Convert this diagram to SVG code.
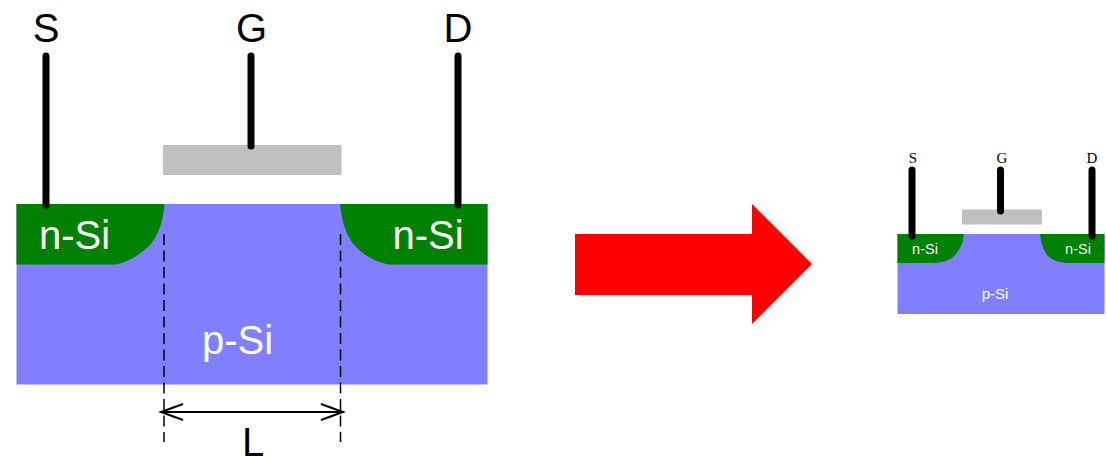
<svg xmlns="http://www.w3.org/2000/svg" width="1106" height="456" viewBox="0 0 1106 456">
<style>
.si{fill:#8080ff}.n{fill:#008000}.gate{fill:#c0c0c0}
.lead{stroke:#000;stroke-linecap:round;fill:none}
.t{font-family:"Liberation Sans",Arial,sans-serif;fill:#fff;text-anchor:middle}
.k{font-family:"Liberation Sans",Arial,sans-serif;fill:#000;text-anchor:middle}
.s{font-family:"Liberation Serif","Times New Roman",serif;fill:#000;text-anchor:middle;font-size:15px}
.dash{stroke:#000;stroke-width:1.5;stroke-dasharray:11 5.5;fill:none}
.dim{stroke:#000;stroke-width:2;fill:none}
</style>
<rect width="1106" height="456" fill="#fff"/>
<g id="large-substrate"><rect class="si" x="16.500" y="204" width="471" height="180.500"/><text class="t" x="237.500" y="354" font-size="40">p-Si</text></g>
<g id="large-source"><path class="n" d="M16.500 204H164.500C163 222 158 237 148 247C138 256 128 262 116 264.500H16.500Z"/><text class="t" x="74.500" y="249" font-size="40">n-Si</text></g>
<g id="large-drain"><path class="n" d="M340 204H487.500V264.500H388C376 262 365 256 356 247C346 237 342 222 340 204Z"/><text class="t" x="428" y="249" font-size="40">n-Si</text></g>
<g id="large-gate"><rect class="gate" x="163" y="145" width="178.500" height="30"/></g>
<g id="connectors">
<path class="lead" stroke-width="7" d="M46 56V205M251 56V146M458 56V205"/>
<path class="dash" d="M164 234V442M340.500 234V442"/>
<path class="dim" d="M162 412H344M183 404L161 412L183 420M321 404L343 412L321 420"/>
</g>
<g id="large-labels">
<text class="k" x="46" y="42" font-size="40">S</text>
<text class="k" x="251.500" y="42" font-size="40">G</text>
<text class="k" x="458" y="42" font-size="40">D</text>
<text class="k" x="253" y="455.500" font-size="40">L</text>
</g>
<g id="arrow"><path fill="#ff0000" d="M575 234H752V204L812 264L752 324V295H575Z"/></g>
<g id="small-device">
<rect class="si" x="897.500" y="234" width="207" height="80"/>
<path class="n" d="M897.500 234H964C963 243 960 250 954 256C950 260 944 262 936 263H897.500Z"/>
<path class="n" d="M1040 234H1104.500V263H1066C1058 262 1052 260 1048 256C1043 250 1041 243 1040 234Z"/>
<rect class="gate" x="962" y="209.500" width="80" height="15"/>
<path class="lead" stroke-width="7" d="M912 170V236M1000.500 170V211M1092 170V236"/>
<text class="t" x="925" y="254" font-size="14.500">n-Si</text>
<text class="t" x="1078" y="254" font-size="14.500">n-Si</text>
<text class="t" x="995" y="299" font-size="15">p-Si</text>
<text class="s" x="913" y="163">S</text>
<text class="s" x="1002" y="163">G</text>
<text class="s" x="1092" y="163">D</text>
</g>
</svg>
